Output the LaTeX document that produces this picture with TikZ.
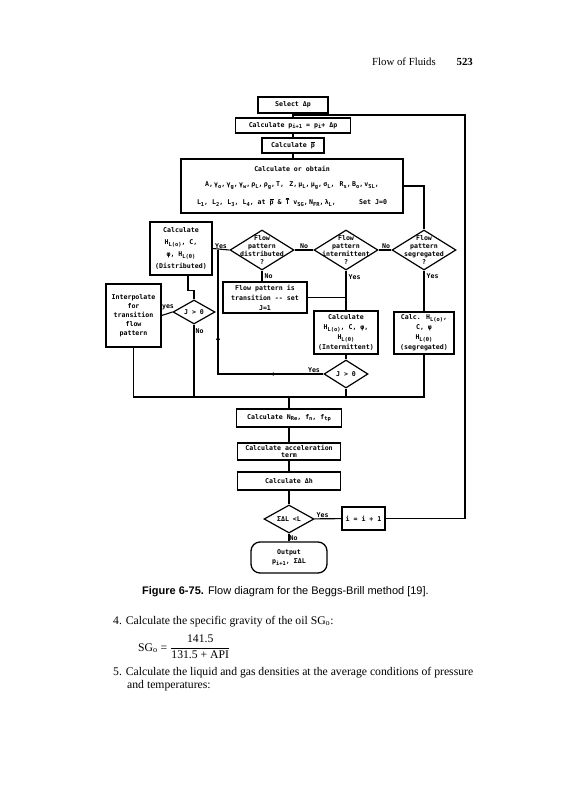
\documentclass[tikz,border=0pt]{standalone}
\usepackage{fontspec}
\setmainfont{Liberation Serif}
\newfontfamily\fcfont{DejaVu Sans Mono}
\newfontfamily\capfont{Liberation Sans}
\usetikzlibrary{shapes.geometric,decorations.markings,arrows.meta}
\newcommand{\sbs}[1]{\raisebox{-1.7pt}{\fontsize{5.4}{6}\selectfont #1}}
\newcommand{\ovl}[1]{\ensuremath{\overline{\hbox{#1}}}}
\newcommand{\cma}{,\hspace{1.2pt}}
\begin{document}
\begin{tikzpicture}[x=1pt,y=-1pt,
  fc/.style={font=\fcfont\bfseries\fontsize{6.6}{7.8}\selectfont},
  fcbox/.style 2 args={draw,line width=1.3pt,fc,align=center,inner sep=0pt,minimum width=#1,minimum height=#2},
  dia/.style 2 args={draw,diamond,line width=1.2pt,inner sep=0pt,minimum width=#1,minimum height=#2},
  ln/.style={line width=1.1pt},
  lab/.style={fc,inner sep=0.5pt},
  body/.style={font=\fontsize{11.7}{13}\selectfont,inner sep=0pt},
]
\fill[white] (0,0) rectangle (564,800);
\useasboundingbox (0,0) rectangle (564,800);

% header
\node[inner sep=0pt,anchor=base east,font=\fontsize{10.8}{12}\selectfont] (hdr) at (436,66) {Flow of Fluids};
\node[inner sep=0pt,anchor=base east,font=\bfseries\fontsize{10.8}{12}\selectfont] (pg) at (473,66) {523};

% top column
\node[fcbox={70pt}{16pt}] (sel) at (293,105) {Select Δp};
\node[fcbox={115pt}{15pt}] (pnext) at (293,125.5) {Calculate p\sbs{i+1} = p\sbs{i}+ Δp};
\node[fcbox={62pt}{15pt}] (pbar) at (293,145.5) {Calculate \ovl{p}};
\node[fcbox={222pt}{54pt}] (big) at (292,186) {Calculate or obtain\\[7.5pt]
A\cma γ\sbs{o}\cma γ\sbs{g}\cma γ\sbs{w}\cma ρ\sbs{L}\cma ρ\sbs{g}\cma T\cma{} Z\cma μ\sbs{L}\cma μ\sbs{g}\cma σ\sbs{L}\cma{} R\sbs{s}\cma B\sbs{o}\cma v\sbs{SL}\cma\\[7.5pt]
L\sbs{1}, L\sbs{2}, L\sbs{3}, L\sbs{4}, at \ovl{p} \& \ovl{T} v\sbs{SG}\cma N\sbs{FR}\cma λ\sbs{L}\cma\hspace{22pt}Set J=0};

% diamonds row
\node[dia={64pt}{40pt}] (dist) at (262,250) {};
\node[fc,align=center,inner sep=0pt] (distt) at (dist) {Flow\\pattern\\distributed\\?};
\node[dia={64pt}{40pt}] (inter) at (346,250) {};
\node[fc,align=center,inner sep=0pt] (intert) at (inter) {Flow\\pattern\\intermittent\\?};
\node[dia={64pt}{40pt}] (seg) at (424,250) {};
\node[fc,align=center,inner sep=0pt] (segt) at (seg) {Flow\\pattern\\segregated\\?};

% boxes
\node[fcbox={62pt}{53pt}] (distbox) at (181,248.5) {Calculate\\[4.4pt]H\sbs{L(o)}, C,\\[4.4pt]φ, H\sbs{L(θ)}\\[4.4pt](Distributed)};
\node[fcbox={55pt}{63pt}] (interp) at (133.5,315.5) {Interpolate\\[1.2pt]for\\[1.2pt]transition\\[1.2pt]flow\\[1.2pt]pattern};
\node[dia={42pt}{24pt}] (ja) at (194,312) {};
\node[fc,inner sep=0pt] (jat) at (ja) {J > 0};
\node[fcbox={84pt}{31pt}] (trans) at (265,297.5) {Flow pattern is\\[2.2pt]transition -{}- set\\[2.2pt]J=1};
\node[fcbox={64pt}{43pt}] (interbox) at (346,332.5) {Calculate\\[2.4pt]H\sbs{L(o)}, C, φ,\\[2.4pt]H\sbs{L(θ)}\\[2.4pt](Intermittent)};
\node[fcbox={60pt}{42pt}] (segbox) at (424,333) {Calc. H\sbs{L(o)},\\[2.2pt]C, φ\\[2.2pt]H\sbs{L(θ)}\\[2.2pt](segregated)};
\node[dia={44pt}{28pt}] (jb) at (346,374) {};
\node[fc,inner sep=0pt] (jbt) at (jb) {J > 0};

% bottom column
\node[fcbox={105pt}{18pt}] (nre) at (289,418) {Calculate N\sbs{Re}, f\sbs{n}, f\sbs{tp}};
\node[fcbox={103pt}{17pt}] (acc) at (289,451.5) {Calculate acceleration\\[-1pt]term};
\node[fcbox={103pt}{18pt}] (dh) at (289,481) {Calculate Δh};
\node[dia={50pt}{28pt}] (sum) at (289,519) {};
\node[fc,inner sep=0pt] (sumt) at (sum) {ΣΔL <L};
\node[fcbox={43pt}{23pt}] (inc) at (363.5,518.5) {i = i + 1};
\node[fcbox={76pt}{31pt},rounded corners=9pt] (out) at (289,557.5) {Output\\[1pt]p\sbs{i+1}, ΣΔL};

\coordinate (bus) at (0,397);
\coordinate (yj) at (218,250);
\coordinate (lp) at (465,115);

% connectors
\draw[ln] (sel) -- (pnext);
\draw[ln] (pnext) -- (pbar);
\draw[ln] (pbar) -- (pbar |- big.north);
\draw[ln] (big.east) -| (seg.north);
\draw[ln] (seg.west) -- (inter.east);
\draw[ln] (inter.west) -- (dist.east);
\draw[ln] (dist.west) -- (distbox.east);
\draw[ln] (dist.south) -- (dist.south |- trans.north);
\draw[ln] (inter.south) -- (interbox.north);
\draw[ln] (trans.east) -- (trans.east -| inter.south);
\draw[ln] (seg.south) -- (segbox.north);
\draw[ln] (interbox) -- (jb);
\draw[ln,postaction={decorate},decoration={markings,
   mark=at position 54pt with {\arrow{Latex[length=4.5pt,width=3.6pt]}},
   mark=at position 145pt with {\arrow{Latex[length=5.5pt,width=4.2pt]}}}]
   (jb.west) -- (jb.west -| yj) -- (yj);
\draw[ln] ([xshift=7pt]distbox.south) -- ++(0,15) -| (ja.north);
\draw[ln] (ja.west) -- (interp.east);
\draw[ln] (interp.south) |- (bus -| segbox.south) -- (segbox.south);
\draw[ln] (ja.south) -- (ja.south |- bus);
\draw[ln] (jb.south) -- (jb.south |- bus);
\draw[ln] (nre.north |- bus) -- (nre);
\draw[ln] (nre) -- (acc);
\draw[ln] (acc) -- (dh);
\draw[ln] (dh) -- (sum);
\draw[ln] (sum) -- (inc);
\draw[ln] (sum) -- (out);
\draw[ln] (inc.east) -| (lp) -- (lp -| sel.south);

% labels
\node[lab,anchor=south] (l1) at (221,249) {Yes};
\node[lab,anchor=south] (l2) at (304,249) {No};
\node[lab,anchor=south] (l3) at (386,249) {No};
\node[lab,anchor=west] (l4) at (264,276) {No};
\node[lab,anchor=west] (l5) at (348,277) {Yes};
\node[lab,anchor=west] (l6) at (426,276) {Yes};
\node[lab,anchor=south] (l7) at (168,311) {yes};
\node[lab,anchor=west] (l8) at (195,331) {No};
\node[lab,anchor=south] (l9) at (314,373) {Yes};
\node[lab,anchor=south west] (l10) at (316,518) {Yes};
\node[lab,anchor=west] (l11) at (289,538) {No};

% caption and text
\node[anchor=base west,inner sep=0pt,font=\capfont\fontsize{11}{13}\selectfont] (cap) at (142,594) {\textbf{Figure 6-75.} Flow diagram for the Beggs-Brill method [19].};
\node[body,anchor=base west] (t4) at (113,624) {4. Calculate the specific gravity of the oil SG\textsubscript{o}:};
\node[body,anchor=base west] (sg) at (138,651) {SG\textsubscript{o} =};
\node[body,anchor=west] (fr) at (170,647) {$\displaystyle\frac{\hbox{141.5}}{\hbox{131.5 + API}}$};
\node[body,anchor=base west] (t5) at (113,675) {\makebox[360pt][s]{5. Calculate the liquid and gas densities at the average conditions of pressure}};
\node[body,anchor=base west] (t5b) at (127,688) {and temperatures:};
\end{tikzpicture}
\end{document}
